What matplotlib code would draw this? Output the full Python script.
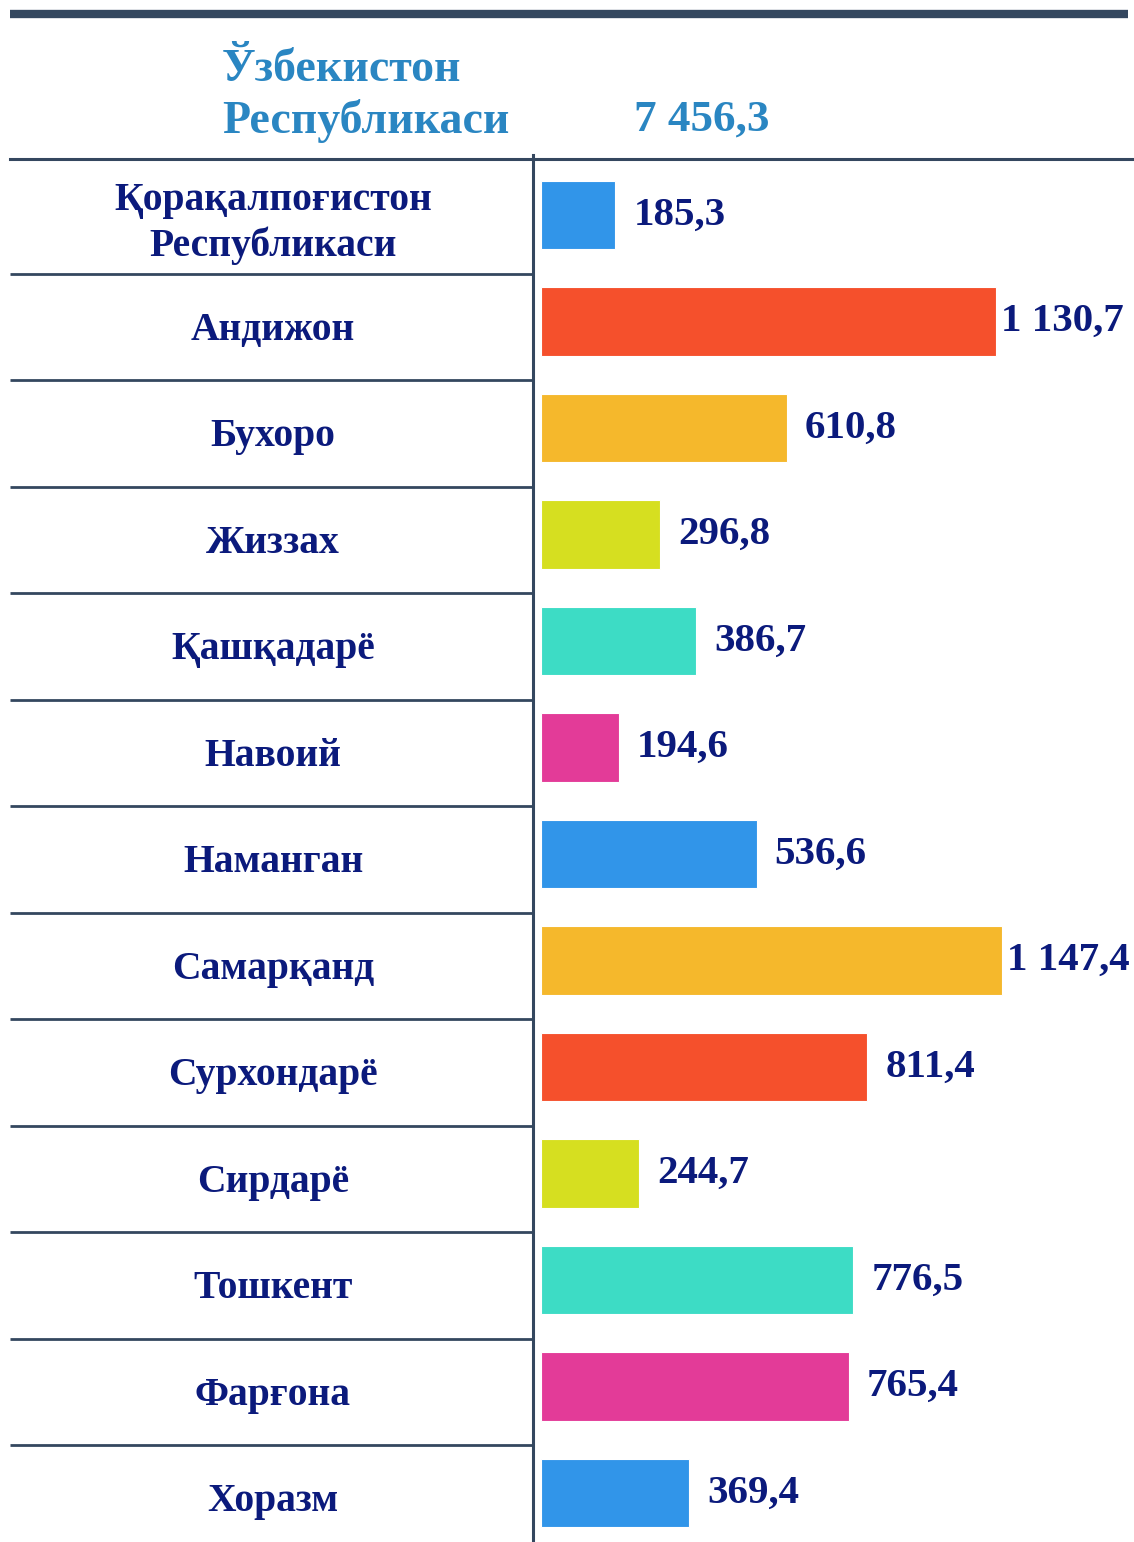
import matplotlib

matplotlib.use("Agg")
import matplotlib.pyplot as plt
from matplotlib.transforms import blended_transform_factory

plt.rcParams["font.family"] = ["Liberation Serif", "DejaVu Serif"]
plt.rcParams["font.weight"] = "bold"

regions = [
    "Қорақалпоғистон\nРеспубликаси",
    "Андижон",
    "Бухоро",
    "Жиззах",
    "Қашқадарё",
    "Навоий",
    "Наманган",
    "Самарқанд",
    "Сурхондарё",
    "Сирдарё",
    "Тошкент",
    "Фарғона",
    "Хоразм",
]
values = [185.3, 1130.7, 610.8, 296.8, 386.7, 194.6, 536.6, 1147.4, 811.4, 244.7, 776.5, 765.4, 369.4]
value_labels = ["185,3", "1 130,7", "610,8", "296,8", "386,7", "194,6", "536,6",
                "1 147,4", "811,4", "244,7", "776,5", "765,4", "369,4"]
total_name = "Ўзбекистон\nРеспубликаси"
total_label = "7 456,3"

blue, red, orange, lime, teal, pink = "#3195E9", "#F5502C", "#F5B82C", "#D6DF20", "#3DDCC5", "#E33B98"
bar_colors = [blue, red, orange, lime, teal, pink, blue, orange, red, lime, teal, pink, blue]
text_color = "#0B1A7C"
header_color = "#2A86C2"
line_color = "#34475F"

# figure geometry in pixels
W, H = 1134, 1542
bar_x0 = 541          # pixel where bars start
px_per_unit = 0.402   # horizontal scale
row0, row_step = 215, 106.5
divider_x = 533

fig = plt.figure(figsize=(W / 100, H / 100), dpi=100)
ax = fig.add_axes([0, 0, 1, 1])
ax.set_xlim(-bar_x0 / px_per_unit, (W - bar_x0) / px_per_unit)
ax.set_ylim((H - row0) / row_step, -row0 / row_step)
ax.axis("off")

rows = list(range(len(regions)))
ax.barh(rows, values, height=0.64, color=bar_colors, edgecolor="white", linewidth=0.8)

for r, v, lab in zip(rows, values, value_labels):
    gap = 5 if v > 1000 else 18
    ax.text(v + gap / px_per_unit, r, lab, ha="left", va="center",
            fontsize=29.5, color=text_color, fontweight="bold")

tr = blended_transform_factory(ax.transAxes, ax.transData)
label_x = 273 / W
for r, name in zip(rows, regions):
    ax.text(label_x, r + 0.08, name, transform=tr, ha="center", va="center",
            fontsize=28.5, color=text_color, fontweight="bold", linespacing=1.25)

# row separators on the left side
for r in rows[:-1]:
    ax.plot([10 / W, divider_x / W], [r + 0.55, r + 0.55], transform=tr,
            color=line_color, lw=2, solid_capstyle="butt")
# header separator and vertical divider
ax.plot([10 / W, 1.0], [-0.53, -0.53], transform=tr, color=line_color, lw=2.2)
ax.plot([divider_x / W, divider_x / W], [-0.56, ax.get_ylim()[0]], transform=tr,
        color=line_color, lw=2.2)

# thick top rule
fig.add_artist(plt.Line2D([10 / W, 1128 / W], [1 - 14 / H, 1 - 14 / H],
                          color=line_color, lw=6, solid_capstyle="butt"))

fig.text(222 / W, 1 - 96 / H, total_name, ha="left", va="center",
         fontsize=33, color=header_color, fontweight="bold", linespacing=1.22)
fig.text(634 / W, 1 - 120 / H, total_label, ha="left", va="center",
         fontsize=32.5, color=header_color, fontweight="bold")

fig.savefig("out.png", dpi=100, facecolor="white")
